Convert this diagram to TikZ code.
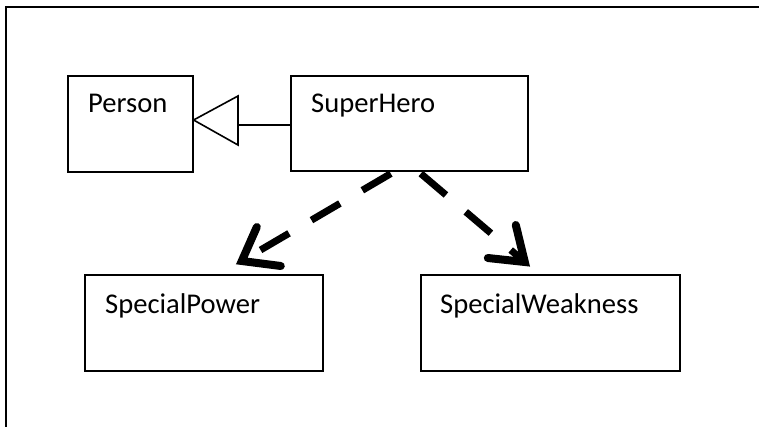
\documentclass[tikz,border=0pt]{standalone}
\usepackage{fontspec}
\setmainfont{Carlito}
\usetikzlibrary{calc}
\tikzset{
  umlbox/.style={draw, line width=1.6pt, inner sep=0pt, anchor=north west},
  lbl/.style={font=\fontsize{28.6}{32}\selectfont, anchor=base west, inner sep=0pt},
  dep/.style={line width=7pt, dash pattern=on 33pt off 26pt, line cap=butt},
  barb/.style={line width=8pt, line cap=round, line join=miter},
  thin/.style={line width=1.6pt},
}
\begin{document}
\begin{tikzpicture}[x=1pt,y=-1pt]
\useasboundingbox (0,0) rectangle (759,427);
\draw[line width=2.2pt] (790,7) -- (6,7) -- (6,460);
% classes
\node[umlbox, minimum width=125pt, minimum height=96pt] (person) at (67,75) {};
\node[umlbox, minimum width=237pt, minimum height=95pt] (hero) at (290,75) {};
\node[umlbox, minimum width=238pt, minimum height=96pt] (power) at (84,274) {};
\node[umlbox, minimum width=259pt, minimum height=96pt] (weak) at (420,274) {};
\node[lbl] (personT) at ($(person.north west)+(21,38)$) {Person};
\node[lbl] (heroT) at ($(hero.north west)+(21,38)$) {SuperHero};
\node[lbl] (powerT) at ($(power.north west)+(21,39)$) {SpecialPower};
\node[lbl] (weakT) at ($(weak.north west)+(20,39)$) {SpecialWeakness};
% generalization
\coordinate (gbase) at (238,125);
\coordinate (gtip) at (193,120);
\draw[thin] (hero.west |- gbase) -- (gbase);
\draw[thin, line join=miter, fill=white] (person.east |- gtip) -- (238,96) -- (238,145) -- cycle;
% dependencies
\coordinate (sL) at ($(hero.south)+(-18.5,2)$);
\coordinate (tL) at ($(power.north)+(38,-13)$);
\draw[dep] (sL) -- (tL);
\draw[barb] ($(tL)+(15,-34)$) -- (tL) -- ($(tL)+(39,5)$);
\coordinate (sR) at ($(hero.south)+(11.5,2)$);
\coordinate (tR) at ($(weak.north)+(-25.5,-12)$);
\draw[dep] (sR) -- (tR);
\draw[barb] ($(tR)+(-9,-37)$) -- (tR) -- ($(tR)+(-37,-4)$);
\end{tikzpicture}
\end{document}
